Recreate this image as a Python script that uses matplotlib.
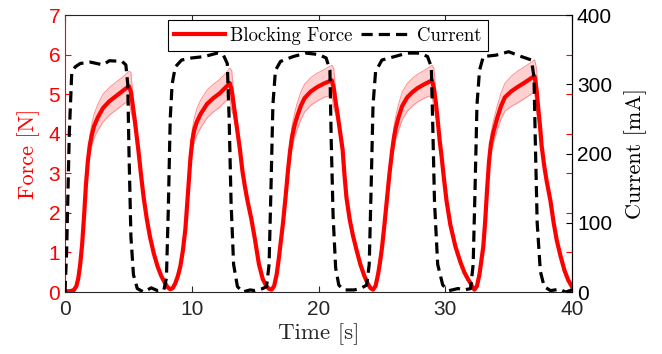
import numpy as np
import matplotlib
matplotlib.use('Agg')
import matplotlib.pyplot as plt

# blocking force: mean and spread (one row per rise / fall)
force_t = [0.0, 0.4, 0.7, 0.9, 1.05, 1.2, 1.35, 1.5, 1.65, 1.8, 1.95, 2.1, 2.3, 2.6, 3.0, 3.5, 4.1, 4.7, 5.05,
           5.2, 5.35, 5.5, 5.65, 5.8, 6.0, 6.2, 6.45, 6.7, 7.0, 7.3, 7.6, 7.9, 8.1, 8.3,
           8.5, 8.7, 8.9, 9.1, 9.3, 9.5, 9.7, 9.9, 10.05, 10.2, 10.4, 10.7, 11.2, 11.7, 12.2, 12.7, 13.0,
           13.15, 13.3, 13.45, 13.6, 13.8, 14.0, 14.2, 14.4, 14.7, 15.0, 15.3, 15.6, 15.9, 16.1, 16.3,
           16.5, 16.7, 16.85, 17.0, 17.2, 17.4, 17.6, 17.75, 17.9, 18.1, 18.3, 18.6, 18.9, 19.4, 19.9, 20.5, 21.05,
           21.2, 21.35, 21.5, 21.7, 21.9, 22.05, 22.2, 22.45, 22.7, 23.0, 23.3, 23.6, 23.9, 24.1, 24.3,
           24.5, 24.7, 24.85, 25.0, 25.2, 25.4, 25.6, 25.8, 25.95, 26.1, 26.3, 26.6, 27.0, 27.4, 27.8, 28.4, 28.95,
           29.1, 29.25, 29.4, 29.55, 29.7, 29.9, 30.1, 30.4, 30.8, 31.2, 31.5, 31.8, 32.0, 32.15, 32.3,
           32.5, 32.7, 32.85, 33.0, 33.15, 33.3, 33.45, 33.6, 33.8, 34.1, 34.4, 34.7, 35.2, 35.7, 36.3, 36.9, 37.05,
           37.2, 37.35, 37.5, 37.6, 37.8, 38.0, 38.3, 38.55, 38.8, 39.1, 39.4, 39.7, 40.0]
force_mean = [0.02, 0.02, 0.05, 0.15, 0.35, 0.7, 1.2, 1.9, 2.7, 3.3, 3.7, 3.95, 4.2, 4.42, 4.65, 4.82, 4.97, 5.12, 5.2,
              5.05, 4.7, 4.35, 3.95, 3.55, 2.95, 2.4, 1.85, 1.4, 0.98, 0.65, 0.4, 0.22, 0.12, 0.07,
              0.1, 0.22, 0.4, 0.65, 1.05, 1.6, 2.5, 3.4, 3.85, 4.1, 4.3, 4.5, 4.75, 4.9, 5.02, 5.18, 5.28,
              5.1, 4.75, 4.4, 4.05, 3.6, 3.05, 2.65, 2.3, 1.85, 1.3, 0.7, 0.33, 0.14, 0.08, 0.06,
              0.15, 0.45, 0.8, 1.2, 1.75, 2.4, 3.1, 3.55, 3.9, 4.2, 4.42, 4.7, 4.9, 5.07, 5.18, 5.28, 5.35,
              5.15, 4.8, 4.5, 4.05, 3.6, 2.95, 2.4, 1.85, 1.45, 1.06, 0.7, 0.42, 0.2, 0.1, 0.06,
              0.15, 0.45, 0.75, 1.1, 1.7, 2.35, 3.0, 3.55, 3.9, 4.15, 4.4, 4.7, 4.92, 5.05, 5.15, 5.26, 5.35,
              5.15, 4.8, 4.35, 3.85, 3.45, 2.85, 2.3, 1.7, 1.15, 0.75, 0.5, 0.32, 0.22, 0.12, 0.06,
              0.15, 0.45, 0.8, 1.15, 1.8, 2.6, 3.3, 3.75, 4.05, 4.4, 4.7, 4.92, 5.07, 5.18, 5.3, 5.43, 5.45,
              5.1, 4.6, 4.1, 3.7, 3.2, 2.8, 2.3, 1.75, 1.3, 0.9, 0.55, 0.3, 0.13]
force_sd = [0.0, 0.0, 0.01, 0.02, 0.04, 0.06, 0.09, 0.12, 0.16, 0.2, 0.24, 0.27, 0.3, 0.33, 0.35, 0.35, 0.35, 0.35, 0.38,
            0.5, 0.3, 0.2, 0.15, 0.12, 0.1, 0.09, 0.08, 0.07, 0.06, 0.05, 0.04, 0.03, 0.03, 0.02,
            0.02, 0.03, 0.05, 0.07, 0.1, 0.14, 0.19, 0.24, 0.28, 0.3, 0.33, 0.35, 0.35, 0.35, 0.35, 0.35, 0.38,
            0.5, 0.3, 0.2, 0.15, 0.12, 0.1, 0.09, 0.08, 0.07, 0.06, 0.05, 0.04, 0.03, 0.03, 0.02,
            0.02, 0.03, 0.05, 0.07, 0.1, 0.14, 0.19, 0.24, 0.28, 0.3, 0.33, 0.35, 0.35, 0.35, 0.35, 0.35, 0.38,
            0.5, 0.3, 0.2, 0.15, 0.12, 0.1, 0.09, 0.08, 0.07, 0.06, 0.05, 0.04, 0.03, 0.03, 0.02,
            0.02, 0.03, 0.05, 0.07, 0.1, 0.14, 0.19, 0.24, 0.28, 0.3, 0.33, 0.35, 0.35, 0.35, 0.35, 0.35, 0.38,
            0.5, 0.3, 0.2, 0.15, 0.12, 0.1, 0.09, 0.08, 0.07, 0.06, 0.05, 0.04, 0.03, 0.03, 0.02,
            0.02, 0.03, 0.05, 0.07, 0.1, 0.14, 0.19, 0.24, 0.28, 0.3, 0.33, 0.35, 0.38, 0.4, 0.4, 0.4, 0.42,
            0.55, 0.3, 0.2, 0.15, 0.12, 0.1, 0.09, 0.08, 0.07, 0.06, 0.05, 0.04, 0.03]

# current (mA)
cur_t = [0.0, 0.13, 0.34, 0.53, 0.8, 1.2, 2.0, 3.0, 3.5, 4.5, 4.8, 4.95, 5.05, 5.2,
         5.4, 5.7, 6.2, 6.8, 7.3, 7.8, 8.0, 8.15, 8.3, 8.45, 8.7, 9.2, 10.0, 11.0, 12.0,
         12.5, 12.8, 12.95, 13.1, 13.3, 13.6, 14.0, 14.6, 15.0, 15.6, 15.9, 16.1, 16.25,
         16.4, 16.6, 17.0, 18.0, 19.0, 20.0, 20.6, 20.9, 21.0, 21.15, 21.35, 21.6, 22.0,
         22.8, 23.3, 23.8, 24.0, 24.15, 24.3, 24.5, 25.0, 26.0, 27.0, 28.0, 28.6, 28.9,
         29.0, 29.15, 29.4, 29.8, 30.3, 31.0, 31.5, 32.0, 32.2, 32.35, 32.5, 32.7, 33.0,
         34.0, 35.0, 36.0, 36.8, 37.0, 37.1, 37.25, 37.5, 37.8, 38.3, 39.0, 39.5, 40.0]
cur_ma = [0, 60, 230, 316, 325, 330, 332, 328, 334, 333, 328, 300, 200, 80,
          25, 5, 0, 6, 2, 3, 20, 120, 250, 300, 325, 335, 338, 340, 345,
          342, 330, 250, 130, 40, 8, 0, 3, 2, 5, 8, 40, 150,
          270, 320, 333, 340, 345, 343, 338, 320, 220, 110, 35, 10, 3,
          3, 5, 10, 40, 150, 270, 318, 335, 340, 345, 345, 340, 325,
          250, 130, 40, 10, 2, 5, 3, 5, 40, 150, 270, 320, 340,
          342, 347, 340, 335, 310, 220, 100, 30, 8, 2, 4, 0, 3]

serif = 'cmr10'
plt.rcParams['font.family'] = ['Liberation Sans', 'DejaVu Sans']
plt.rcParams['axes.unicode_minus'] = False

fig = plt.figure(figsize=(6.62, 3.54), dpi=100)
ax = fig.add_axes([0.0982, 0.1751, 0.7659, 0.7825])
ax2 = ax.twinx()

fm = np.array(force_mean)
fs = np.array(force_sd)
ax.fill_between(force_t, fm - fs, fm + fs, color='#ffd0d0', lw=0)
ax.plot(force_t, fm + fs, color='#ff8c8c', lw=0.7)
ax.plot(force_t, fm - fs, color='#ff8c8c', lw=0.7)
l1, = ax.plot(force_t, fm, color='red', lw=3, solid_joinstyle='round')

l2, = ax2.plot(cur_t, cur_ma, color='black', lw=2.3, linestyle=(0, (3.5, 1.9)))

ax.set_xlim(0, 40)
ax.set_ylim(0, 7)
ax2.set_ylim(0, 400)
ax.set_xticks([0, 10, 20, 30, 40])
ax.set_yticks(range(8))
ax2.set_yticks([0, 100, 200, 300, 400])

ax.tick_params(axis='y', colors='red', direction='in', labelsize=15, right=True, length=4)
ax.tick_params(axis='x', colors='#262626', direction='in', labelsize=15, top=True, length=4, pad=6)
ax2.tick_params(axis='y', colors='black', direction='in', labelsize=15, length=4)

ax.spines['left'].set_color('red')
ax.spines['bottom'].set_color('#262626')
ax.spines['top'].set_color('#262626')
ax2.spines['right'].set_color('black')
for s in ['left', 'bottom', 'top']:
    ax2.spines[s].set_visible(False)

ax.set_xlabel('Time [s]', fontfamily=serif, fontsize=16.5, color='#262626', labelpad=3)
ax.set_ylabel('Force [N]', fontfamily=serif, fontsize=16, color='red', labelpad=6)
ax2.set_ylabel('Current [mA]', fontfamily=serif, fontsize=16, color='black', labelpad=9)

leg = ax2.legend([l1, l2], ['Blocking Force', 'Current'], loc='upper center',
                 bbox_to_anchor=(0.518, 0.982), ncol=2, fancybox=False, framealpha=1,
                 edgecolor='black', prop={'family': serif, 'size': 13.5},
                 handlelength=2.7, columnspacing=0.5, handletextpad=0.25,
                 borderpad=0.35, borderaxespad=0)
leg.get_frame().set_linewidth(0.8)

fig.savefig('out.png', dpi=100)
